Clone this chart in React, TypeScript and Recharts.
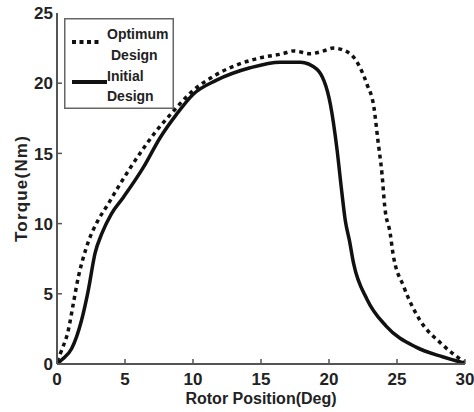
import React from 'react';
import { LineChart, Line, XAxis, YAxis, Legend } from 'recharts';

const initialX = [0, 0.35, 1.08, 1.8, 2.3, 2.8, 3.3, 4.0, 4.9, 6.35, 7.57, 8.8, 10.0, 11.7, 14.2, 16.4, 17.9, 19.1, 20.1, 20.6, 20.9, 21.2, 21.5, 21.8, 22.8, 24.2, 26.4, 28.4, 30];
const initialY = [0, 0.3, 1.1, 3.1, 5.25, 7.9, 9.3, 10.7, 11.9, 14.0, 16.1, 17.8, 19.2, 20.2, 21.1, 21.5, 21.5, 21.0, 18.5, 15.2, 12.6, 10.2, 8.8, 7.2, 4.6, 2.7, 1.2, 0.5, 0.05];

const optimumX = [0, 0.35, 0.83, 1.2, 1.57, 1.94, 2.3, 3.0, 3.7, 4.5, 6.1, 7.3, 8.55, 9.8, 11.7, 14.9, 16.6, 17.4, 18.6, 19.6, 20.3, 21.2, 22.0, 22.8, 23.3, 23.6, 23.9, 24.1, 24.5, 24.7, 25.5, 26.7, 28.2, 30];
const optimumY = [0.2, 1.0, 2.4, 4.3, 6.2, 7.6, 8.7, 10.2, 11.3, 12.6, 15.0, 16.6, 18.0, 19.3, 20.6, 21.8, 22.1, 22.3, 22.1, 22.3, 22.5, 22.3, 21.6, 19.9, 18.3, 15.9, 13.5, 11.2, 9.3, 7.9, 5.5, 3.1, 1.5, 0.1];

const xTicks = [0, 5, 10, 15, 20, 25, 30];
const yTicks = [0, 5, 10, 15, 20, 25];
const innerXTicks = [5, 10, 15, 20, 25];
const innerYTicks = [5, 10, 15, 20];

const legendLabels = [['Optimum', 'Design'], ['Initial', 'Design']];
const xTitle = 'Rotor Position(Deg)';
const yTitle = 'Torque(Nm)';

const initialData = initialX.map((x, i) => ({ x, y: initialY[i] }));
const optimumData = optimumX.map((x, i) => ({ x, y: optimumY[i] }));

const FONT = '"Liberation Sans", Arial, sans-serif';
const AXIS_COLOR = '#555';
const TICK_MARGIN = 8;

const BottomTick = (props: any) => {
  const { x, y, payload } = props;
  const axisY = y - TICK_MARGIN;
  return (
    <g>
      <line x1={x} x2={x} y1={axisY} y2={axisY - 5} stroke={AXIS_COLOR} strokeWidth={1.5} />
      <text x={x} y={y} dy="0.75em" textAnchor="middle" fontFamily={FONT} fontWeight="bold" fontSize={17} fill="#222">
        {payload.value}
      </text>
    </g>
  );
};

const LeftTick = (props: any) => {
  const { x, y, payload } = props;
  const axisX = x + 4;
  return (
    <g>
      {payload.value !== 0 && payload.value !== 25 && (
        <line x1={axisX} x2={axisX + 5} y1={y} y2={y} stroke={AXIS_COLOR} strokeWidth={1.5} />
      )}
      <text x={x} y={y} dy="0.36em" textAnchor="end" fontFamily={FONT} fontWeight="bold" fontSize={17} fill="#222">
        {payload.value}
      </text>
    </g>
  );
};

const TopTick = (props: any) => {
  const { x, y } = props;
  return <line x1={x} x2={x} y1={y} y2={y + 5} stroke={AXIS_COLOR} strokeWidth={1.5} />;
};

const RightTick = (props: any) => {
  const { x, y } = props;
  return <line x1={x} x2={x - 5} y1={y} y2={y} stroke={AXIS_COLOR} strokeWidth={1.5} />;
};

const XTitle = (props: any) => {
  const { viewBox } = props;
  const cx = viewBox.x + viewBox.width / 2;
  return (
    <text x={cx} y={viewBox.y + 40} textAnchor="middle" fontFamily={FONT} fontWeight="bold" fontSize={16} fill="#222">
      {xTitle}
    </text>
  );
};

const YTitle = (props: any) => {
  const { viewBox } = props;
  const cx = 21;
  const cy = viewBox.y + viewBox.height / 2;
  return (
    <text x={cx} y={cy} dy="0.36em" textAnchor="middle" transform={`rotate(-90, ${cx}, ${cy})`} fontFamily={FONT} fontWeight="bold" fontSize={17} letterSpacing={1.2} fill="#222">
      {yTitle}
    </text>
  );
};

const legendText = { fontFamily: FONT, fontWeight: 'bold' as const, fontSize: 14, fill: '#222' };

const LegendBox = () => (
  <svg width={110} height={91} style={{ display: 'block' }}>
    <rect x={0.75} y={0.75} width={108.5} height={89.5} fill="#fff" stroke="#666" strokeWidth={1.5} />
    <line x1={8} x2={36} y1={24} y2={24} stroke="#111" strokeWidth={4} strokeDasharray="4 3.5" />
    <text x={43} y={21} {...legendText}>{legendLabels[0][0]}</text>
    <text x={47} y={42} {...legendText}>{legendLabels[0][1]}</text>
    <line x1={8} x2={43} y1={64} y2={64} stroke="#111" strokeWidth={4} />
    <text x={43} y={63} {...legendText}>{legendLabels[1][0]}</text>
    <text x={43} y={83} {...legendText}>{legendLabels[1][1]}</text>
  </svg>
);

export default function App() {
  return (
    <div style={{ position: 'absolute', left: 0, top: 0, width: 474, height: 412, background: '#fff' }}>
      <LineChart width={474} height={412} margin={{ top: 13, right: 9, bottom: 0, left: 0 }}>
        <XAxis
          dataKey="x"
          type="number"
          domain={[0, 30]}
          ticks={xTicks}
          height={48}
          allowDataOverflow
          tickSize={0}
          tickMargin={TICK_MARGIN}
          tickLine={false}
          axisLine={{ stroke: AXIS_COLOR, strokeWidth: 2 }}
          tick={<BottomTick />}
          label={<XTitle />}
        />
        <XAxis
          xAxisId="top"
          orientation="top"
          type="number"
          domain={[0, 30]}
          ticks={innerXTicks}
          height={0}
          allowDataOverflow
          tickSize={0}
          tickMargin={0}
          tickLine={false}
          axisLine={{ stroke: AXIS_COLOR, strokeWidth: 2 }}
          tick={<TopTick />}
        />
        <YAxis
          type="number"
          domain={[0, 25]}
          ticks={yTicks}
          width={57}
          allowDataOverflow
          tickSize={0}
          tickMargin={4}
          tickLine={false}
          axisLine={{ stroke: AXIS_COLOR, strokeWidth: 2 }}
          tick={<LeftTick />}
          label={<YTitle />}
        />
        <YAxis
          yAxisId="right"
          orientation="right"
          type="number"
          domain={[0, 25]}
          ticks={innerYTicks}
          width={0}
          allowDataOverflow
          tickSize={0}
          tickMargin={0}
          tickLine={false}
          axisLine={{ stroke: AXIS_COLOR, strokeWidth: 2 }}
          tick={<RightTick />}
        />
        <Legend
          layout="horizontal"
          verticalAlign="middle"
          align="center"
          content={<LegendBox />}
          wrapperStyle={{ position: 'absolute', left: 64, top: 18, width: 110, height: 91 }}
        />
        <Line
          data={optimumData}
          dataKey="y"
          type="monotone"
          stroke="#111"
          strokeWidth={3.5}
          strokeDasharray="4 4"
          dot={false}
          isAnimationActive={false}
        />
        <Line
          data={initialData}
          dataKey="y"
          type="monotone"
          stroke="#111"
          strokeWidth={3.5}
          dot={false}
          isAnimationActive={false}
        />
      </LineChart>
    </div>
  );
}
